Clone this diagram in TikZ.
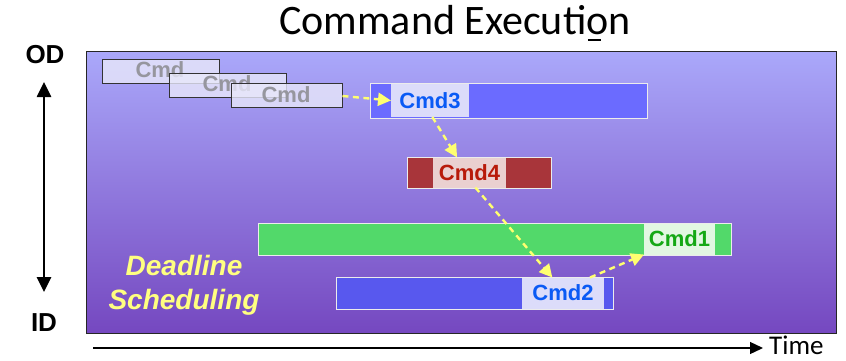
\documentclass[tikz,border=0pt]{standalone}
\usepackage{fontspec}
\setmainfont{Liberation Sans}
\newfontfamily\titlefont{Carlito}
\usetikzlibrary{arrows.meta,calc}

\definecolor{panelTop}{RGB}{170,168,250}
\definecolor{panelBot}{RGB}{117,72,192}
\definecolor{barBlue}{RGB}{107,107,255}
\definecolor{barBlueB}{RGB}{88,88,238}
\definecolor{labBlue}{RGB}{220,220,250}
\definecolor{txtBlue}{RGB}{10,90,245}
\definecolor{barRed}{RGB}{168,53,58}
\definecolor{labRed}{RGB}{234,208,208}
\definecolor{txtRed}{RGB}{184,26,10}
\definecolor{barGreen}{RGB}{82,217,106}
\definecolor{labGreen}{RGB}{226,247,226}
\definecolor{txtGreen}{RGB}{20,168,20}
\definecolor{flowYellow}{RGB}{255,255,112}
\definecolor{noteYellow}{RGB}{255,255,128}
\definecolor{ghostFill}{RGB}{232,232,250}
\definecolor{ghostText}{RGB}{150,150,158}

\tikzset{
  bar/.style={draw=white!85!gray, line width=0.8pt, inner sep=0pt, outer sep=0pt},
  cmdlabel/.style={inner sep=0pt, outer sep=0pt, font=\fontsize{22}{24}\selectfont\bfseries},
  ghost/.style={draw=black!80, line width=0.9pt, fill=ghostFill, fill opacity=0.8,
    inner sep=0pt, minimum width=117pt, minimum height=24pt},
  ghosttext/.style={text=ghostText, font=\fontsize{22}{24}\selectfont\bfseries, inner sep=0pt},
  flow/.style={draw=flowYellow, line width=2.4pt, dash pattern=on 6pt off 4.5pt,
    -{Triangle[length=13pt,width=13pt,fill=flowYellow,sep=0pt]}, shorten >=0pt},
  axislabel/.style={font=\fontsize{26}{28}\selectfont\bfseries, inner sep=0pt}
}

\begin{document}
\begin{tikzpicture}[x=1pt,y=-1pt]
\useasboundingbox (0,0) rectangle (846,360);

% title, with its stray mark under the second "o"
\node[font=\titlefont\fontsize{42}{46}\selectfont, inner sep=0pt] (title) at (455,23)
  {Command Executi\rlap{\kern1.5pt\rule[-6pt]{13pt}{1.2pt}}on};

% background panel
\node[draw=black!85, line width=0.9pt, top color=panelTop, bottom color=panelBot,
  minimum width=750pt, minimum height=282pt, inner sep=0pt] (panel) at (461,192) {};

% vertical OD / ID axis
\node[axislabel] (od) at (45,55) {OD};
\node[axislabel] (id) at (44,323) {ID};
\coordinate (vtop) at (44,82);
\coordinate (vbot) at (44,292);
\draw[line width=2.6pt, {Triangle[length=15pt,width=14pt]}-{Triangle[length=15pt,width=14pt]}] (vtop) -- (vbot);

% time axis
\node[font=\titlefont\fontsize{27}{29}\selectfont, anchor=west, inner sep=0pt] (time) at (769,345) {Time};
\coordinate (tstart) at (93,348);
\draw[line width=1.3pt, -{Triangle[length=13pt,width=12pt]}] (tstart) -- ($(time.west)+(-6,3)$);

% queued commands
\node[ghost] (g1) at (160.5,71) {};
\node[ghosttext] (gt1) at (160,70) {Cmd};
\node[ghost] (g2) at (227.5,85) {};
\node[ghosttext] (gt2) at (227,84) {Cmd};
\node[ghost, minimum width=111pt] (g3) at (286.5,95) {};
\node[ghosttext] (gt3) at (286,95) {Cmd};

% command bars
\node[bar, fill=barBlue, minimum width=277pt, minimum height=35pt] (b3) at (508.5,100.5) {};
\node[cmdlabel, fill=labBlue, text=txtBlue, minimum width=78pt, minimum height=33pt] (l3) at (430,100.5) {Cmd3};

\node[bar, fill=barRed, minimum width=144pt, minimum height=31pt] (b4) at (479,172.5) {};
\node[cmdlabel, fill=labRed, text=txtRed, minimum width=73pt, minimum height=30pt] (l4) at (469.5,172.5) {Cmd4};

\node[bar, fill=barGreen, minimum width=473pt, minimum height=32pt] (b1) at (494.5,239) {};
\node[cmdlabel, fill=labGreen, text=txtGreen, minimum width=71pt, minimum height=31pt] (l1) at (679.5,239) {Cmd1};

\node[bar, fill=barBlueB, minimum width=277pt, minimum height=32pt] (b2) at (474.5,293) {};
\node[cmdlabel, fill=labBlue, text=txtBlue, minimum width=82pt, minimum height=31pt] (l2) at (563,293) {Cmd2};

% scheduling order
\draw[flow] ($(g3.east)+(0,1)$) -- (l3.west);
\draw[flow] ($(l3.south west)!0.53!(l3.south east)$) -- ($(l4.north west)!0.33!(l4.north east)$);
\draw[flow] ($(l4.south west)!0.58!(l4.south east)$) -- ($(l2.north west)!0.37!(l2.north east)$);
\draw[flow] ($(l2.north west)!0.83!(l2.north east)$) -- (l1.south west);

% caption
\node[text=noteYellow, font=\fontsize{28}{34}\selectfont\bfseries\itshape, align=center, inner sep=0pt]
  (note) at (184,285) {Deadline\\Scheduling};
\end{tikzpicture}
\end{document}
